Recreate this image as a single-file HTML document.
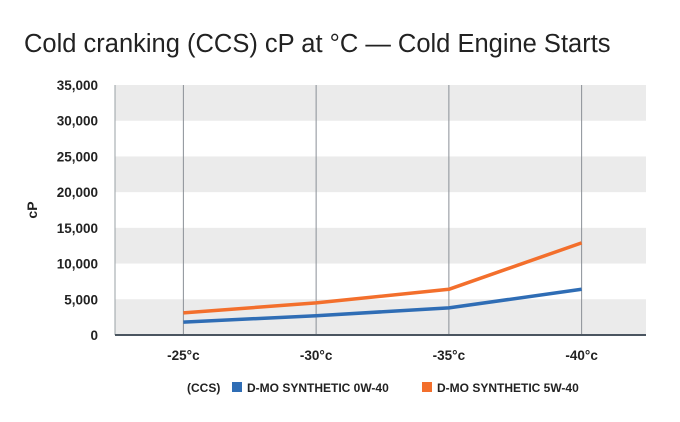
<!DOCTYPE html>
<html><head><meta charset="utf-8"><style>
body{margin:0;background:#fff;font-family:"Liberation Sans",sans-serif}
svg text{font-family:"Liberation Sans",sans-serif}
</style></head><body>
<svg width="680" height="417">
<text x="24" y="52" font-size="25.5" fill="#222">Cold cranking (CCS) cP at °C — Cold Engine Starts</text>
<g id="bands"></g><g id="grid"></g><g id="yt"></g><g id="xt"></g><g id="lines"></g>
<text transform="translate(37,210) rotate(-90)" text-anchor="middle" font-size="14" font-weight="bold" fill="#222">cP</text>
<g>
<text x="187" y="392" font-size="12" font-weight="bold" fill="#222">(CCS)</text>
<rect x="232" y="382" width="10" height="10" fill="#2f6db5"/>
<text x="247" y="392" font-size="12" font-weight="bold" fill="#222">D-MO SYNTHETIC 0W-40</text>
<rect x="422" y="382" width="10" height="10" fill="#f36f2c"/>
<text x="437" y="392" font-size="12" font-weight="bold" fill="#222">D-MO SYNTHETIC 5W-40</text>
</g>
</svg>
<script>
const categories=["-25°c","-30°c","-35°c","-40°c"];
const series0w40=[1800,2700,3800,6400];
const series5w40=[3100,4500,6400,12900];
const yTicks=[0,5000,10000,15000,20000,25000,30000,35000];
const yTickLabels=["0","5,000","10,000","15,000","20,000","25,000","30,000","35,000"];
const NS="http://www.w3.org/2000/svg";
const L=115,R=646,T=85,B=335,ymax=35000;
const y=v=>B-(v/ymax)*(B-T);
const bw=(R-L)/categories.length;
const x=i=>L+bw*(i+0.5)+2;
function mk(t,a,p){const e=document.createElementNS(NS,t);for(const k in a)e.setAttribute(k,a[k]);document.getElementById(p).appendChild(e);return e;}
for(let i=0;i<yTicks.length-1;i++){
  if(i%2===0){const r=mk("rect",{x:L,y:y(yTicks[i+1]),width:R-L,height:y(yTicks[i])-y(yTicks[i+1]),fill:"#ebebeb"},"bands");
  
  }
}
yTicks.forEach((v,i)=>{const t=mk("text",{x:98,y:y(v)+5,"text-anchor":"end","font-size":"13.5","font-weight":"bold",fill:"#222"},"yt");t.textContent=yTickLabels[i];

});
categories.forEach((c,i)=>{const l=mk("line",{x1:x(i),x2:x(i),y1:T,y2:B,stroke:"#8a8f96","stroke-width":1},"grid");


const t=mk("text",{x:x(i),y:360,"text-anchor":"middle","font-size":"13.5","font-weight":"bold",fill:"#222"},"xt");t.textContent=c;

});
const ax=mk("line",{x1:L,x2:L,y1:T,y2:B,stroke:"#9aa0a6","stroke-width":1},"grid");


const bx=mk("line",{x1:L,x2:R,y1:B,y2:B,stroke:"#4a5560","stroke-width":2},"grid");


[[series0w40,"#2f6db5","line-0w40"],[series5w40,"#f36f2c","line-5w40"]].forEach(([s,c,n])=>{
  const p=mk("polyline",{points:s.map((v,i)=>x(i)+","+y(v)).join(" "),fill:"none",stroke:c,"stroke-width":3.5,"stroke-linejoin":"round"},"lines");
  
  
});
</script>
</body></html>
